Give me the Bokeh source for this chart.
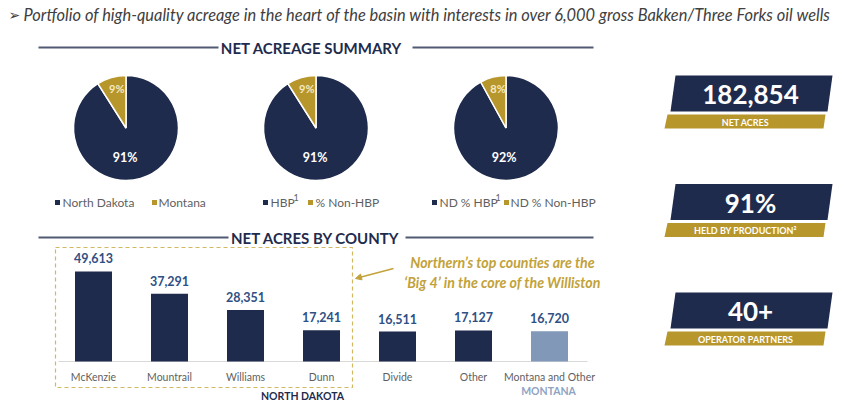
from bokeh.plotting import figure
from bokeh.models import Range1d, Arrow, NormalHead, ColumnDataSource
from bokeh.core.properties import value
from bokeh.embed import file_html
from bokeh.resources import INLINE
import math

# ---------------- data ----------------
subtitle = "Portfolio of high-quality acreage in the heart of the basin with interests in over 6,000 gross Bakken/Three Forks oil wells"
section_titles = ["NET ACREAGE SUMMARY", "NET ACRES BY COUNTY"]

pie1_values = [91, 9]
pie2_values = [91, 9]
pie3_values = [92, 8]
pie1_legend = ["North Dakota", "Montana"]
pie2_legend = ["HBP", "% Non-HBP"]
pie3_legend = ["ND % HBP", "ND % Non-HBP"]

counties = ["McKenzie", "Mountrail", "Williams", "Dunn", "Divide", "Other", "Montana and Other"]
net_acres = [49613, 37291, 28351, 17241, 16511, 17127, 16720]
state_groups = ["NORTH DAKOTA", "MONTANA"]
annotation = ["Northern\u2019s top counties are the", "\u2018Big 4\u2019 in the core of the Williston"]

kpi_values = ["182,854", "91%", "40+"]
kpi_labels = ["NET ACRES", "HELD BY PRODUCTION\u00b2", "OPERATOR PARTNERS"]

# ---------------- style ----------------
NAVY = "#1f2b4d"
GOLD = "#b7962c"
GOLD_TXT = "#c2a23a"
STEEL = "#8198b8"
BLUE_TXT = "#2f5085"
GRAY_TXT = "#5f5f5f"
RULE = "#505b73"
FONT = value("Lato")

W, H = 853, 401


def Y(v):
    return 409 - v


p = figure(width=W, height=H, x_range=Range1d(0, W), y_range=Range1d(409 - H, 409),
           output_backend="svg", toolbar_location=None, min_border=0,
           x_axis_type=None, y_axis_type=None)
p.grid.visible = False
p.outline_line_color = None
p.background_fill_color = "white"


def txt(x, y, t, size, color, style="normal", align="center", baseline="middle", font=FONT):
    p.text(x=[x], y=[Y(y)], text=[t], text_font=font, text_font_size=size,
           text_font_style=style, text_color=color, text_align=align, text_baseline=baseline)


# subtitle
txt(8, 14, "\u27a2", "14px", "#404040", align="left", font=value("DejaVu Sans"))
txt(23, 14, subtitle, "16.4px", "#404040", style="italic", align="left")

# section headers
txt(311, 47, section_titles[0], "15px", NAVY, style="bold")
p.segment(x0=[38, 412], x1=[218, 593], y0=[Y(47)] * 2, y1=[Y(47)] * 2, line_color=RULE, line_width=2)
txt(315, 237, section_titles[1], "15px", NAVY, style="bold")
p.segment(x0=[38, 405], x1=[228, 593], y0=[Y(237)] * 2, y1=[Y(237)] * 2, line_color=RULE, line_width=2)

# ---------------- pies ----------------
pie_cx = [125.5, 315.5, 505.5]
pie_cy = 127.5
R = 52.5
pie_colors = [NAVY, GOLD]
for cx, vals in zip(pie_cx, [pie1_values, pie2_values, pie3_values]):
    tot = float(sum(vals))
    cum = 0.0
    starts, ends, lx, ly, lt = [], [], [], [], []
    for i, v in enumerate(vals):
        a0 = 90 - cum / tot * 360
        a1 = 90 - (cum + v) / tot * 360
        starts.append(math.radians(a0))
        ends.append(math.radians(a1))
        mid = (a0 + a1) / 2
        if i == 0:
            mid -= 18
            r = 0.57 * R
        else:
            mid -= 3
            r = 0.77 * R
        lx.append(cx + r * math.cos(math.radians(mid)))
        ly.append(Y(pie_cy) + r * math.sin(math.radians(mid)))
        lt.append("%d%%" % v)
        cum += v
    p.wedge(x=[cx] * len(vals), y=[Y(pie_cy)] * len(vals), radius=R, radius_units="screen",
            start_angle=starts, end_angle=ends, direction="clock",
            fill_color=pie_colors, line_color="white", line_width=1.5)
    p.text(x=lx[:1], y=ly[:1], text=lt[:1], text_font=FONT, text_font_size="12.5px",
           text_font_style="bold", text_color="white", text_align="center", text_baseline="middle")
    p.text(x=lx[1:], y=ly[1:], text=lt[1:], text_font=FONT, text_font_size="11px",
           text_font_style="bold", text_color="#f5e9c0", text_align="center", text_baseline="middle")

# legends
LEG_Y = 202
leg_items = [
    (57, 62, pie1_legend[0], None, 154, 158, pie1_legend[1]),
    (265, 270, pie2_legend[0], 293, 310, 315, pie2_legend[1]),
    (434, 439, pie3_legend[0], 495, 506, 510, pie3_legend[1]),
]
for sq1, t1, l1, sup, sq2, t2, l2 in leg_items:
    p.scatter(x=[sq1], y=[Y(LEG_Y)], marker="square", size=5, fill_color=NAVY, line_color=None)
    p.scatter(x=[sq2], y=[Y(LEG_Y)], marker="square", size=5, fill_color=GOLD, line_color=None)
    txt(t1, LEG_Y, l1, "12px", GRAY_TXT, align="left")
    txt(t2, LEG_Y, l2, "12px", GRAY_TXT, align="left")
    if sup is not None:
        txt(sup, LEG_Y - 5, "1", "9px", GRAY_TXT, align="left")

# ---------------- bars ----------------
PITCH = 76.0
X0 = 93.0
BASE = 361.0
APP = 551.0  # acres per pixel
p.extra_x_ranges = {"cats": Range1d((0 - X0) / PITCH, (W - X0) / PITCH)}
p.extra_y_ranges = {"acres": Range1d(-(Y(BASE) - (409 - H)) * APP, (409 - Y(BASE)) * APP)}

idx = list(range(len(counties)))
bar_colors = [NAVY] * 6 + [STEEL]
src = ColumnDataSource(dict(x=idx, top=net_acres, color=bar_colors,
                            lab=["{:,}".format(v) for v in net_acres],
                            ly=[v + 13 * APP for v in net_acres],
                            cat=counties, cy=[-15 * APP] * len(counties)))
p.segment(x0=[58], x1=[587], y0=[Y(BASE)], y1=[Y(BASE)], line_color="#d9d9d9", line_width=1)
p.vbar(x="x", top="top", bottom=0, width=37 / PITCH, fill_color="color", line_color=None,
       source=src, x_range_name="cats", y_range_name="acres")
p.text(x="x", y="ly", text="lab", source=src, x_range_name="cats", y_range_name="acres",
       text_font=FONT, text_font_size="12.5px", text_font_style="bold", text_color=BLUE_TXT,
       text_align="center", text_baseline="middle")
p.text(x="x", y="cy", text="cat", source=src, x_range_name="cats", y_range_name="acres",
       text_font=FONT, text_font_size="10.5px", text_color=GRAY_TXT,
       text_align="center", text_baseline="middle")

txt(302, 395, state_groups[0], "10.5px", NAVY, style="bold")
txt(548, 390, state_groups[1], "10.5px", "#8fa3c2", style="bold")

# dashed box
p.quad(left=[55], right=[352], top=[Y(247)], bottom=[Y(387)], fill_alpha=0,
       line_color="#d2b860", line_dash="4 3", line_width=1.2)

# annotation
txt(502, 262, annotation[0], "14.2px", GOLD_TXT, style="bold italic")
txt(502, 282, annotation[1], "14.2px", GOLD_TXT, style="bold italic")
p.add_layout(Arrow(end=NormalHead(size=6, fill_color=GOLD_TXT, line_color=GOLD_TXT),
                   x_start=393, y_start=Y(268), x_end=355, y_end=Y(278),
                   line_color=GOLD_TXT, line_width=1.3))

# ---------------- KPI panels ----------------
for k, (v, lab) in enumerate(zip(kpi_values, kpi_labels)):
    dy = k * 108.5
    p.patch(x=[675, 832, 827, 670], y=[Y(75 + dy), Y(75 + dy), Y(111 + dy), Y(111 + dy)],
            fill_color=NAVY, line_color=None)
    p.patch(x=[667, 825, 823, 664], y=[Y(114 + dy), Y(114 + dy), Y(128 + dy), Y(128 + dy)],
            fill_color=GOLD, line_color=None)
    txt(750, 94 + dy, v, "26px", "white", style="bold")
    txt(745, 121.5 + dy, lab, "9px", "white", style="bold")

open("out.html", "w").write(file_html(p, INLINE))
